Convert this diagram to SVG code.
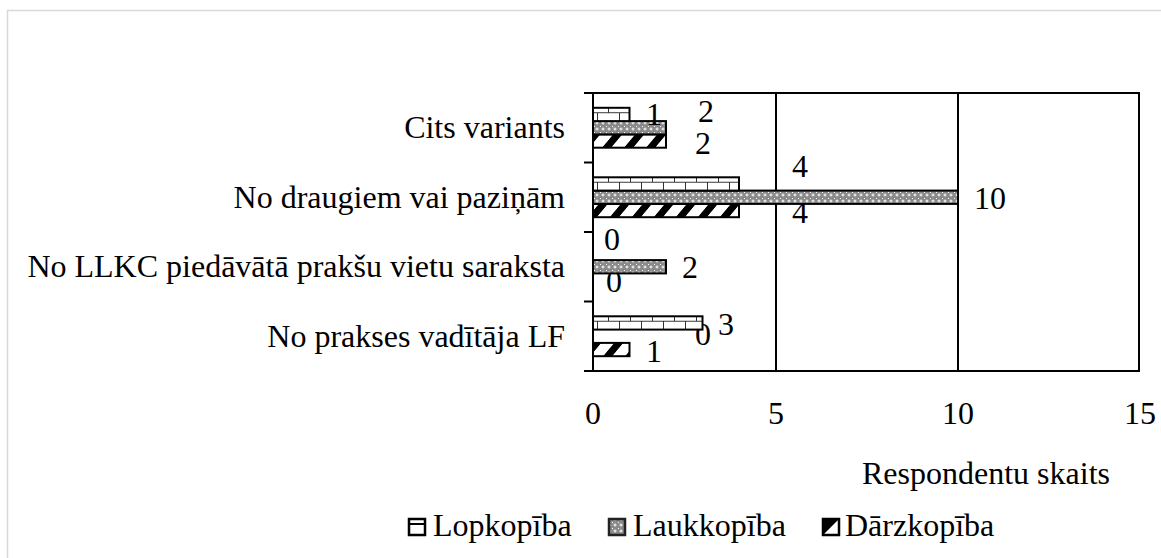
<svg xmlns="http://www.w3.org/2000/svg" width="1161" height="558" viewBox="0 0 1161 558">
<style>
text{font-family:"Liberation Serif","Times New Roman",serif;font-size:32px;fill:#000}
.lab{text-anchor:middle}
.cat{text-anchor:end}
.bar{stroke:#000;stroke-width:2}
.ax{stroke:#000;stroke-width:2;fill:none}
</style>
<defs>
<pattern id="pBrick" patternUnits="userSpaceOnUse" x="597" y="112.25" width="22" height="17.375">
<rect width="22" height="17.375" fill="#fff"/>
<path d="M0 0.5H22M0 9.19H22M0.5 0V8.69M11.5 8.69V17.375" stroke="#333" stroke-width="1" fill="none"/>
</pattern>
<pattern id="pDots" patternUnits="userSpaceOnUse" x="0" y="0" width="6" height="6">
<rect width="6" height="6" fill="#8a8a8a"/>
<rect x="1.5" y="2.5" width="3" height="1" fill="#fff"/>
<rect x="2.5" y="1.5" width="1" height="3" fill="#fff"/>
<rect x="0" y="0" width="1" height="1" fill="#fff"/>
</pattern>
<pattern id="pDiag" patternUnits="userSpaceOnUse" x="0" y="0" width="22" height="20" patternTransform="skewX(-40)">
<rect width="22" height="20" fill="#fff"/>
<rect width="9" height="20" fill="#000"/>
</pattern>
</defs>
<rect x="7.5" y="10.5" width="1170" height="570" fill="#fff" stroke="#d9d9d9" stroke-width="1.5"/>
<g id="grid">
<line x1="776" y1="93" x2="776" y2="371" stroke="#000" stroke-width="2"/>
<line x1="958" y1="93" x2="958" y2="371" stroke="#000" stroke-width="2"/>
<rect class="ax" x="593" y="93" width="546" height="278"/>
<path class="ax" d="M584 93H593M584 162.5H593M584 232H593M584 301.5H593M584 371H593"/>
</g>
<g id="axis-labels">
<text class="lab" x="593" y="424">0</text>
<text class="lab" x="776" y="424">5</text>
<text class="lab" x="958" y="424">10</text>
<text class="lab" x="1140" y="424">15</text>
<text x="862" y="484">Respondentu skaits</text>
</g>
<g id="categories">
<text class="cat" x="565" y="138">Cits variants</text>
<text class="cat" x="565" y="208">No draugiem vai paziņām</text>
<text class="cat" x="565" y="277">No LLKC piedāvātā prakšu vietu saraksta</text>
<text class="cat" x="565" y="347">No prakses vadītāja LF</text>
</g>
<g id="series-darzkopiba">
<rect class="bar" x="593" y="134.4" width="73" height="13.3" fill="url(#pDiag)"/>
<rect class="bar" x="593" y="203.9" width="146" height="13.3" fill="url(#pDiag)"/>
<rect class="bar" x="593" y="342.9" width="36.5" height="13.3" fill="url(#pDiag)"/>
<text class="lab" x="703" y="154">2</text>
<text class="lab" x="800" y="223">4</text>
<text class="lab" x="614" y="292">0</text>
<text class="lab" x="654" y="362">1</text>
</g>
<g id="series-laukkopiba">
<rect class="bar" x="593" y="121.1" width="73" height="13.3" fill="url(#pDots)"/>
<rect class="bar" x="593" y="190.6" width="365" height="13.3" fill="url(#pDots)"/>
<rect class="bar" x="593" y="260.1" width="73" height="13.3" fill="url(#pDots)"/>
<text class="lab" x="706" y="122">2</text>
<text class="lab" x="990" y="209">10</text>
<text class="lab" x="690" y="278">2</text>
<text class="lab" x="703" y="345">0</text>
</g>
<g id="series-lopkopiba">
<rect class="bar" x="593" y="107.8" width="36.5" height="13.3" fill="url(#pBrick)"/>
<rect class="bar" x="593" y="177.3" width="146" height="13.3" fill="url(#pBrick)"/>
<rect class="bar" x="593" y="316.3" width="109.5" height="13.3" fill="url(#pBrick)"/>
<text class="lab" x="654" y="125">1</text>
<text class="lab" x="800" y="177">4</text>
<text class="lab" x="612" y="250">0</text>
<text class="lab" x="726" y="335">3</text>
</g>
<g id="legend">
<g id="legend-lopkopiba">
<rect x="409" y="519" width="16" height="16" fill="#fff" stroke="#000" stroke-width="2.5"/>
<line x1="409" y1="524" x2="425" y2="524" stroke="#000" stroke-width="2"/>
<text x="433" y="536">Lopkopība</text>
</g>
<g id="legend-laukkopiba">
<rect x="609" y="519" width="16" height="16" fill="url(#pDots)" stroke="#222" stroke-width="2.5"/>
<text x="633" y="536">Laukkopība</text>
</g>
<g id="legend-darzkopiba">
<rect x="823" y="519" width="16" height="16" fill="#fff" stroke="#000" stroke-width="2.5"/>
<path d="M823 519H839L823 535Z" fill="#000"/>
<text x="845" y="536">Dārzkopība</text>
</g>
</g>
</svg>
